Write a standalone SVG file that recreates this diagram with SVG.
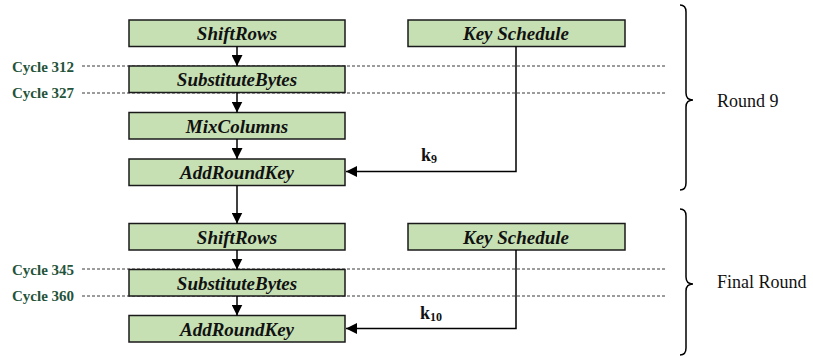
<svg xmlns="http://www.w3.org/2000/svg" width="813" height="358" viewBox="0 0 813 358">
  <defs>
    <marker id="arrow" viewBox="0 0 11 11" refX="11" refY="5.5" markerWidth="11" markerHeight="11" markerUnits="userSpaceOnUse" orient="auto">
      <path d="M0,0 L11,5.5 L0,11 z" fill="#000"/>
    </marker>
    <style>
      .box { fill: #c6e0b4; stroke: #1a1a1a; stroke-width: 1.5; }
      .lbl { font-family: "Liberation Serif", "Times New Roman", serif; font-weight: bold; font-style: italic; font-size: 19px; fill: #111; text-anchor: middle; }
      .cyc { font-family: "Liberation Serif", "Times New Roman", serif; font-weight: bold; font-size: 15px; fill: #24533a; }
      .dash { stroke: #222; stroke-width: 0.9; stroke-dasharray: 3 2; fill: none; }
      .wire { stroke: #000; stroke-width: 1.5; fill: none; }
      .brace { stroke: #000; stroke-width: 1.5; fill: none; }
      .round { font-family: "Liberation Serif", "Times New Roman", serif; font-size: 18px; fill: #111; }
      .key { font-family: "Liberation Serif", "Times New Roman", serif; font-weight: bold; font-size: 18px; fill: #111; }
    </style>
  </defs>

  <!-- cycle markers -->
  <g id="cycles">
    <line class="dash" x1="82" y1="66" x2="665" y2="66"/>
    <line class="dash" x1="82" y1="93" x2="665" y2="93"/>
    <line class="dash" x1="82" y1="269" x2="665" y2="269"/>
    <line class="dash" x1="82" y1="296" x2="665" y2="296"/>
    <text class="cyc" x="12" y="71.5">Cycle 312</text>
    <text class="cyc" x="12" y="98">Cycle 327</text>
    <text class="cyc" x="12" y="274.5">Cycle 345</text>
    <text class="cyc" x="12" y="301">Cycle 360</text>
  </g>

  <!-- round 9 -->
  <g id="shiftrows9"><rect class="box" x="129" y="20" width="216" height="26.5"/><text class="lbl" x="237" y="40">ShiftRows</text></g>
  <g id="subbytes9"><rect class="box" x="129" y="66" width="216" height="26.5"/><text class="lbl" x="237" y="86">SubstituteBytes</text></g>
  <g id="mixcolumns9"><rect class="box" x="129" y="112.5" width="216" height="26.5"/><text class="lbl" x="237" y="132.5">MixColumns</text></g>
  <g id="addroundkey9"><rect class="box" x="129" y="159" width="216" height="26.5"/><text class="lbl" x="237" y="179">AddRoundKey</text></g>
  <g id="keyschedule9"><rect class="box" x="408" y="20" width="217" height="26.5"/><text class="lbl" x="516" y="40">Key Schedule</text></g>

  <!-- final round -->
  <g id="shiftrows10"><rect class="box" x="129" y="223.5" width="216" height="26.5"/><text class="lbl" x="237" y="243.5">ShiftRows</text></g>
  <g id="subbytes10"><rect class="box" x="129" y="269.5" width="216" height="26.5"/><text class="lbl" x="237" y="289.5">SubstituteBytes</text></g>
  <g id="addroundkey10"><rect class="box" x="129" y="315.5" width="216" height="26.5"/><text class="lbl" x="237" y="335.5">AddRoundKey</text></g>
  <g id="keyschedule10"><rect class="box" x="408" y="223.5" width="217" height="26.5"/><text class="lbl" x="516" y="243.5">Key Schedule</text></g>

  <!-- connectors -->
  <g id="connectors">
    <line class="wire" x1="237" y1="46.5" x2="237" y2="66" marker-end="url(#arrow)"/>
    <line class="wire" x1="237" y1="92.5" x2="237" y2="112.5" marker-end="url(#arrow)"/>
    <line class="wire" x1="237" y1="139" x2="237" y2="159" marker-end="url(#arrow)"/>
    <line class="wire" x1="237" y1="185.5" x2="237" y2="223.5" marker-end="url(#arrow)"/>
    <line class="wire" x1="237" y1="250" x2="237" y2="269.5" marker-end="url(#arrow)"/>
    <line class="wire" x1="237" y1="296" x2="237" y2="315.5" marker-end="url(#arrow)"/>
    <polyline class="wire" points="516,46.5 516,171.5 346,171.5" marker-end="url(#arrow)"/>
    <polyline class="wire" points="516,250 516,328.5 346,328.5" marker-end="url(#arrow)"/>
    <text class="key" x="421" y="161">k<tspan font-size="12" dy="2">9</tspan></text>
    <text class="key" x="420" y="319">k<tspan font-size="12" dy="2">10</tspan></text>
  </g>

  <!-- round braces -->
  <g id="brace9">
    <path class="brace" d="M680,5 Q686,5 686,12 L686,93 Q686,100 693,100 Q686,100 686,107 L686,183 Q686,190 680,190"/>
    <text class="round" x="717" y="107">Round 9</text>
  </g>
  <g id="brace10">
    <path class="brace" d="M680,209 Q686,209 686,216 L686,277 Q686,284 693,284 Q686,284 686,291 L686,348 Q686,355 680,355"/>
    <text class="round" x="717" y="287.5">Final Round</text>
  </g>
</svg>
